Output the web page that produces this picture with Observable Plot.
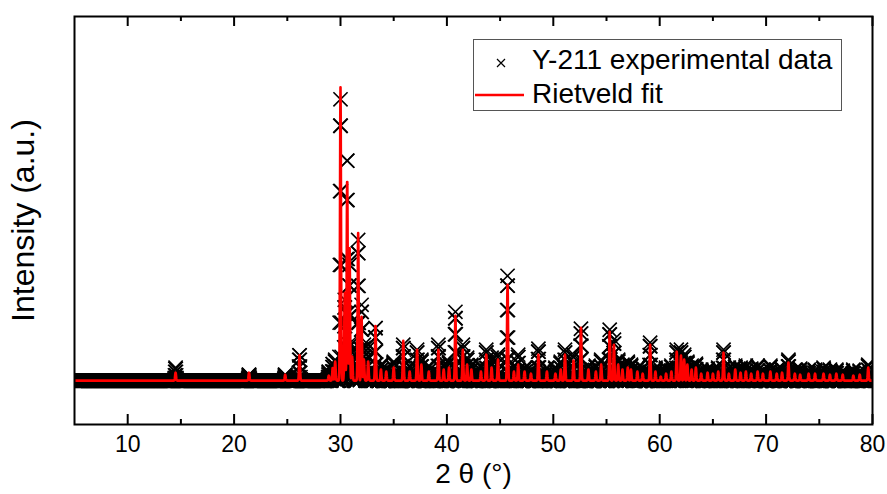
<!DOCTYPE html>
<html>
<head>
<meta charset="utf-8">
<script src="https://cdn.jsdelivr.net/npm/d3@7"></script>
<script src="https://cdn.jsdelivr.net/npm/@observablehq/plot@0.6"></script>
<style>
  html, body { margin: 0; padding: 0; background: #fff; }
  #wrap { position: relative; width: 887px; height: 494px; font-family: "Liberation Sans", Arial, sans-serif; }
  #legend { position: absolute; left: 473px; top: 39px; width: 369px; height: 72px; border: 1px solid #555; background: #fff; box-sizing: border-box; }
  #legend .lbl { position: absolute; left: 58px; font-size: 28px; line-height: 34px; color: #000; white-space: nowrap; }
  #legend svg { position: absolute; left: 0; top: 0; }
</style>
</head>
<body>
<div id="wrap"></div>
<script>
// ---- data ----
// Peak positions (2θ, degrees)
const peakPos  = [14.5, 21.4, 24.8, 26.15, 28.9, 29.27, 29.5, 30.0, 30.4, 30.63, 30.85, 31.1, 31.66, 31.98, 32.2, 32.6,
  33.29, 33.8, 34.3, 35.0, 35.9, 36.5, 37.2, 37.6, 38.3, 39.2, 39.7, 40.2, 40.8, 41.5, 41.9, 42.3, 43.2, 43.7, 44.2,
  44.8, 45.7, 46.3, 46.7, 47.3, 47.9, 48.6, 49.4, 50.2, 50.7, 51.1, 51.9, 52.6, 53.3, 54.0, 54.5, 55.3, 55.7, 56.1,
  56.5, 57.0, 57.3, 57.9, 58.4, 59.1, 59.6, 60.1, 60.6, 61.1, 61.6, 62.0, 62.3, 62.6, 63.0, 63.4, 63.9, 64.5, 65.0,
  65.5, 66.0, 66.5, 67.1, 67.6, 68.1, 68.6, 69.2, 69.7, 70.4, 71.0, 71.5, 72.1, 72.7, 73.2, 74.0, 74.6, 75.4, 76.0,
  76.6, 77.2, 78.2, 78.8, 79.6];
// Rietveld fit peak heights above background (a.u.)
const peakCalc = [80, 80, 60, 260, 50, 130, 190, 2940, 880, 2040, 1360, 240, 1480, 640, 210, 190,
  560, 110, 90, 130, 400, 90, 310, 160, 90, 310, 110, 130, 650, 310, 160, 110, 90, 260, 130,
  210, 960, 90, 160, 90, 70, 260, 90, 70, 110, 260, 200, 530, 110, 90, 160, 490, 360, 160,
  110, 130, 110, 90, 70, 360, 90, 40, 70, 90, 290, 250, 210, 160, 110, 130, 70, 80, 70,
  90, 280, 70, 110, 80, 90, 70, 90, 70, 90, 70, 80, 180, 70, 60, 70, 70, 70, 60,
  70, 60, 50, 60, 130];
// Experimental peak heights above background (a.u.)
const peakObs  = [130, 60, 60, 260, 90, 170, 210, 2820, 810, 2260, 1190, 310, 1410, 760, 360, 360,
  540, 160, 130, 190, 360, 150, 310, 210, 150, 360, 160, 190, 690, 360, 230, 160, 150, 310, 230,
  260, 1050, 150, 260, 130, 110, 320, 130, 130, 190, 310, 260, 520, 150, 150, 210, 510, 410, 210,
  160, 190, 160, 130, 130, 380, 130, 110, 130, 150, 310, 310, 260, 190, 150, 170, 110, 120, 110,
  130, 310, 130, 150, 130, 150, 120, 150, 110, 150, 110, 120, 210, 110, 120, 110, 110, 130, 110,
  110, 100, 110, 100, 160];
const background = 500;          // flat background level (a.u.)
const peakWidth = 0.045;         // Gaussian sigma of each reflection (deg)
const scanStart = 5, scanEnd = 80, scanStep = 0.02;  // measurement range and step (deg)

const xMajor = [10, 20, 30, 40, 50, 60, 70, 80];
const xMinor = [15, 25, 35, 45, 55, 65, 75];
const seriesNames = ["Y-211 experimental data", "Rietveld fit"];
const xTitle = "2 θ (°)";
const yTitle = "Intensity (a.u.)";

// ---- build the scan from the peak table ----
const nSteps = Math.round((scanEnd - scanStart) / scanStep);
const twoTheta = d3.range(nSteps + 1).map(i => +(scanStart + i * scanStep).toFixed(3));
function profile(heights, x) {
  let v = background;
  for (let i = 0; i < peakPos.length; i++) {
    const d = x - peakPos[i];
    if (Math.abs(d) < 0.4) v += heights[i] * Math.exp(-0.5 * (d / peakWidth) ** 2);
  }
  return v;
}
const observed = twoTheta.map(x => ({x, y: profile(peakObs, x)}));
const fitted = twoTheta.map(x => ({x, y: profile(peakCalc, x)}));

// ---- layout ----
const W = 887, H = 494;
const mL = 74, mR = 15, mT = 16, mB = 70;
const innerH = H - mT - mB;

const chart = Plot.plot({
  width: W, height: H,
  marginLeft: mL, marginRight: mR, marginTop: mT, marginBottom: mB,
  style: {fontFamily: "'Liberation Sans', Arial, sans-serif", color: "#000", background: "#fff"},
  x: {domain: [scanStart, scanEnd], axis: null},
  y: {domain: [60, 4150], axis: null},
  marks: [
    Plot.dot(observed, {x: "x", y: "y", symbol: "times", r: 6.5, stroke: "#000", strokeWidth: 1.6, clip: true}),
    Plot.line(fitted, {x: "x", y: "y", stroke: "#ff0000", strokeWidth: 2.6, clip: true}),
    Plot.frame({stroke: "#000", strokeWidth: 2}),
    Plot.tickX(xMajor, {x: d => d, insetTop: innerH - 10, stroke: "#000", strokeWidth: 2}),
    Plot.tickX(xMinor, {x: d => d, insetTop: innerH - 5, stroke: "#000", strokeWidth: 2}),
    Plot.tickX(xMajor, {x: d => d, insetBottom: innerH - 10, stroke: "#000", strokeWidth: 2}),
    Plot.tickX(xMinor, {x: d => d, insetBottom: innerH - 5, stroke: "#000", strokeWidth: 2}),
    Plot.axisX(xMajor, {anchor: "bottom", tickSize: 0, tickPadding: 11, fontSize: 23, label: null, tickFormat: d => String(d)}),
    Plot.text([xTitle], {frameAnchor: "bottom", lineAnchor: "middle", textAnchor: "middle", dy: 50, fontSize: 28, fill: "#000"}),
    Plot.text([yTitle], {frameAnchor: "left", lineAnchor: "middle", textAnchor: "middle", rotate: -90, dx: -51, fontSize: 32, fill: "#000"})
  ]
});

const wrap = document.getElementById("wrap");
wrap.appendChild(chart);

// legend
const legend = document.createElement("div");
legend.id = "legend";
legend.innerHTML = `
  <svg width="60" height="72">
    <path d="M23,19 L31,27 M23,27 L31,19" stroke="#000" stroke-width="1.2" fill="none"/>
    <line x1="1" y1="55" x2="50" y2="55" stroke="#ff0000" stroke-width="2.5"/>
  </svg>
  <div class="lbl" style="top:3px">${seriesNames[0]}</div>
  <div class="lbl" style="top:37px">${seriesNames[1]}</div>`;
wrap.appendChild(legend);
</script>
</body>
</html>
